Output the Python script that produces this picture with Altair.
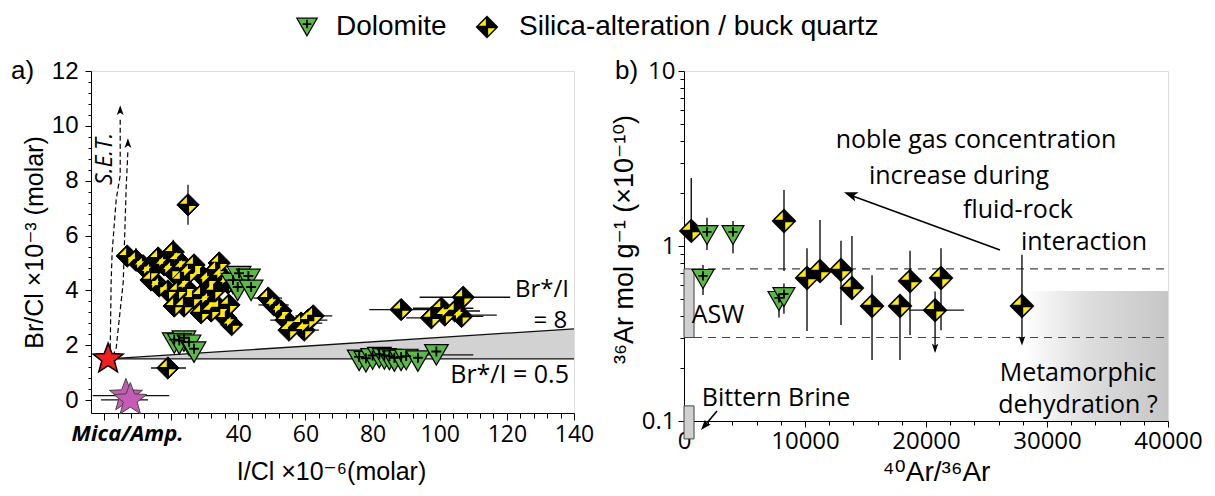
import math
import altair as alt
import pandas as pd

# ---------------- Panel a data (I/Cl vs Br/Cl) ----------------
A_DIA_X = [25.0, 6.9, 9.5, 11.6, 13.7, 16.1, 17.9, 20.6, 22.0, 20.0, 23.5, 25.3, 26.8, 28.9, 31.0,
           33.4, 34.9, 36.9, 14.0, 16.4, 19.0, 22.0, 24.4, 26.5, 23.8, 28.9, 31.0, 32.8, 28.9, 31.9,
           34.3, 36.3, 37.2, 22.9, 20.9, 34.3, 38.0, 48.9, 50.6, 52.7, 54.2, 55.1, 58.7, 60.8, 62.3,
           59.6, 19.0, 88.5, 97.5, 100.5, 101.5, 104.5, 107.0, 106.5]
A_DIA_Y = [7.12, 5.25, 5.1, 4.9, 4.67, 5.18, 4.93, 5.4, 5.1, 4.74, 4.82, 4.64, 4.93, 4.56, 4.38,
           4.74, 4.53, 4.27, 4.38, 4.16, 3.98, 3.98, 4.09, 3.72, 3.43, 3.83, 3.61, 3.98, 3.18, 3.25,
           3.36, 2.99, 3.47, 4.38, 3.43, 5.0, 2.75, 3.72, 3.47, 3.25, 2.92, 2.55, 2.81, 2.92, 3.07,
           2.55, 1.17, 3.3, 3.0, 3.35, 3.1, 3.25, 3.75, 3.05]
A_TRI_X = [38.4, 40.2, 43.0, 39.8, 43.8, 20.9, 23.8, 22.4, 25.3, 26.8,
           76.0, 78.0, 80.0, 82.0, 83.5, 85.0, 86.5, 88.5, 90.0, 93.5, 99.0]
A_TRI_Y = [4.25, 4.5, 4.4, 4.0, 4.0, 2.08, 2.15, 2.05, 2.0, 1.75,
           1.45, 1.4, 1.5, 1.55, 1.5, 1.48, 1.42, 1.45, 1.48, 1.42, 1.65]
A_RED_STAR_X = [1.2]
A_RED_STAR_Y = [1.5]
A_PUR_STAR_X = [6.5, 7.8]
A_PUR_STAR_Y = [0.16, 0.01]
A_HBAR_Y = [1.17, 3.72, 3.47, 3.07, 2.92, 2.81, 2.55, 2.92, 3.3, 3.0, 3.35, 3.1, 3.25, 3.75, 3.05,
            0.16, 0.01, 1.65]
A_HBAR_LO = [14.0, 44.5, 46.0, 57.0, 56.0, 55.0, 53.0, 49.5, 79.0, 90.0, 92.0, 95.0, 97.0, 94.0, 96.0,
             -3.4, -0.9, 95.0]
A_HBAR_HI = [24.4, 53.0, 55.0, 68.0, 66.5, 65.0, 64.0, 59.0, 98.0, 105.0, 110.0, 117.0, 112.0, 121.0, 113.0,
             19.4, 13.1, 110.0]
A_VBAR_X = [25.0, 9.5, 20.6, 16.1, 23.5, 26.8, 33.4, 34.3, 37.2, 40.2, 6.9]
A_VBAR_LO = [6.39, 5.1, 5.4, 5.18, 4.82, 4.93, 4.74, 5.0, 4.27, 4.5, 5.25]
A_VBAR_HI = [7.85, 5.55, 5.85, 5.55, 5.2, 5.25, 5.1, 5.3, 4.6, 4.85, 5.6]
A_WEDGE_X = [1.2, 140.0]
A_WEDGE_TOP = [1.5, 2.6]
A_WEDGE_BOT = [1.5, 1.5]
SET1_X = [1.8, 2.1, 2.4, 3.6, 4.8, 4.8]
SET1_Y = [1.6, 4.3, 5.4, 7.3, 8.2, 10.3]
SET2_X = [2.6, 3.6, 5.7, 6.6, 7.1]
SET2_Y = [1.6, 1.9, 4.3, 7.8, 9.1]
SET_TIP_X = [4.8, 7.1]
SET_TIP_Y = [10.75, 9.55]
A_X_TICKS = list(range(0, 141, 4))
A_Y_TICKS = [round(i * 0.4, 1) for i in range(31)]

# ---------------- Panel b data (40Ar/36Ar vs 36Ar) ----------------
B_DIA_X = [600, 8264, 10165, 11240, 12975, 13880, 15540, 17850, 18680, 20750, 21240, 27930]
B_DIA_Y = [1.22, 1.39, 0.656, 0.72, 0.73, 0.575, 0.454, 0.454, 0.63, 0.43, 0.656, 0.454]
B_DIA_LO = [1.22, 0.72, 0.327, 0.72, 0.354, 0.575, 0.223, 0.223, 0.31, 0.25, 0.33, 0.28]
B_DIA_HI = [2.45, 2.09, 0.97, 1.41, 1.07, 1.14, 0.68, 0.52, 0.94, 0.55, 0.97, 0.89]
B_HBAR_Y = [0.43]
B_HBAR_LO = [18600]
B_HBAR_HI = [23150]
B_LIMIT_X = [20750, 27930]
B_LIMIT_Y = [0.245, 0.27]
B_TRI_X = [1900, 4050, 1570, 7850, 8260]
B_TRI_Y = [1.155, 1.155, 0.648, 0.485, 0.51]
B_TRI_LO = [0.95, 0.91, 0.525, 0.39, 0.41]
B_TRI_HI = [1.45, 1.39, 0.78, 0.575, 0.61]
ASW_RANGE = [0.30, 0.74]
BITTERN_RANGE = [0.079, 0.122]
META_RANGE_X = [28100, 40000]
META_RANGE_Y = [0.1, 0.553]
B_X_TICKS = list(range(0, 40001, 2000))
B_Y_TICKS = [round(k * 0.1, 1) for k in range(1, 10)] + list(range(1, 10)) + [10]

# ---------------- styles ----------------
GREEN = "#5cb847"
YELLOW = "#ffec00"
SANS = "Liberation Sans, DejaVu Sans"
MYR = "Open Sans, DejaVu Sans"
YELLOW_PARTS = "M-0.1,-0.72L-0.1,-0.1L-0.72,-0.1ZM0.1,0.1L0.72,0.1L0.1,0.72Z"
PLUS = "M-0.42,-0.29L0.42,-0.29M0,-0.71L0,0.13"
ARROWHEAD = "M0,0L0.6,1.7L0,1.3L-0.6,1.7Z"


def star_path(inner=0.42):
    pts = []
    for k in range(10):
        r = 1.0 if k % 2 == 0 else inner
        a = -math.pi / 2 + k * math.pi / 5
        pts.append(f"{r * math.cos(a):.3f},{r * math.sin(a):.3f}")
    return "M" + "L".join(pts) + "Z"


STAR = star_path()

# ---------------- Panel a ----------------
xs_a = alt.Scale(domain=[-3.9, 140], nice=False, zero=False)
ys_a = alt.Scale(domain=[-0.47, 12], nice=False, zero=False)
xaxis_a = alt.Axis(
    title="I/Cl ×10⁻⁶(molar)", titleFont=SANS, titleFontSize=25, titleFontWeight="normal",
    titleX=240, titleY=58, titleAlign="center", titleBaseline="middle", titleColor="black",
    values=A_X_TICKS, labelExpr="datum.value >= 40 && datum.value % 20 == 0 ? datum.label : ''",
    format="d", labelFont=MYR, labelFontSize=23, labelColor="black", labelPadding=3,
    tickSize={"condition": {"test": "datum.value % 20 == 0", "value": 7}, "value": 5},
    tickColor="black", domainColor="black", grid=False, labelFlush=False, labelOverlap=False,
)
yaxis_a = alt.Axis(
    title="Br/Cl  ×10⁻³ (molar)", titleFont=SANS, titleFontSize=25, titleFontWeight="normal",
    titleX=-57, titleY=171, titleAlign="center", titleBaseline="middle", titleAngle=-90, titleColor="black",
    values=A_Y_TICKS, format="~g", labelExpr="datum.value % 2 == 0 ? datum.label : ''",
    labelFont=SANS, labelFontSize=24, labelColor="black", labelPadding=7,
    tickSize={"condition": {"test": "datum.value % 2 == 0", "value": 6}, "value": 3},
    tickColor="black", domainColor="black", grid=False, labelFlush=False, labelOverlap=False,
)


def XA(f):
    return alt.X(f, type="quantitative", scale=xs_a, axis=xaxis_a)


def YA(f):
    return alt.Y(f, type="quantitative", scale=ys_a, axis=yaxis_a)


wedge = pd.DataFrame({"x": A_WEDGE_X, "top": A_WEDGE_TOP, "bot": A_WEDGE_BOT})
a_wedge = alt.Chart(wedge).mark_area(color="#d2d2d2").encode(x=XA("x"), y=YA("top"), y2="bot")
a_wedge_lines = alt.Chart(pd.DataFrame({
    "x1": [A_WEDGE_X[0], A_WEDGE_X[0]], "x2": [A_WEDGE_X[1], A_WEDGE_X[1]],
    "y1": [A_WEDGE_TOP[0], A_WEDGE_BOT[0]], "y2": [A_WEDGE_TOP[1], A_WEDGE_BOT[1]],
})).mark_rule(color="#111", strokeWidth=1.3).encode(x=XA("x1"), y=YA("y1"), x2="x2", y2="y2")

set_df = pd.DataFrame({
    "x": SET1_X + SET2_X, "y": SET1_Y + SET2_Y,
    "g": ["a"] * len(SET1_X) + ["b"] * len(SET2_X),
    "i": list(range(len(SET1_X))) + list(range(len(SET2_X))),
})
a_set = alt.Chart(set_df).mark_line(color="black", strokeWidth=1.2, strokeDash=[5, 3]).encode(
    x=XA("x"), y=YA("y"), detail="g:N", order="i:Q")
a_set_tips = alt.Chart(pd.DataFrame({"x": SET_TIP_X, "y": SET_TIP_Y})).mark_point(
    shape=ARROWHEAD, filled=True, color="black", size=130, opacity=1).encode(x=XA("x"), y=YA("y"))

hbar_a = pd.DataFrame({"y": A_HBAR_Y, "lo": A_HBAR_LO, "hi": A_HBAR_HI})
a_hbar = alt.Chart(hbar_a).mark_rule(color="#111", strokeWidth=1.3).encode(x=XA("lo"), x2="hi", y=YA("y"))
vbar_a = pd.DataFrame({"x": A_VBAR_X, "lo": A_VBAR_LO, "hi": A_VBAR_HI})
a_vbar = alt.Chart(vbar_a).mark_rule(color="#111", strokeWidth=1.3).encode(x=XA("x"), y=YA("lo"), y2="hi")

dia_a = pd.DataFrame({"x": A_DIA_X, "y": A_DIA_Y})
a_dia = alt.Chart(dia_a).mark_point(shape="diamond", filled=True, color="black", size=500, opacity=1,
                                     stroke="black", strokeWidth=1).encode(x=XA("x"), y=YA("y"))
a_dia_y = alt.Chart(dia_a).mark_point(shape=YELLOW_PARTS, filled=True, color=YELLOW, size=500,
                                       opacity=1).encode(x=XA("x"), y=YA("y"))

tri_a = pd.DataFrame({"x": A_TRI_X, "y": A_TRI_Y})
a_tri = alt.Chart(tri_a).mark_point(shape="triangle-down", filled=True, fill=GREEN, stroke="black",
                                     strokeWidth=1.2, size=560, opacity=1).encode(x=XA("x"), y=YA("y"))
a_tri_p = alt.Chart(tri_a).mark_point(shape=PLUS, filled=False, stroke="black", strokeWidth=1.9,
                                       size=560, opacity=1).encode(x=XA("x"), y=YA("y"))

a_red = alt.Chart(pd.DataFrame({"x": A_RED_STAR_X, "y": A_RED_STAR_Y})).mark_point(
    shape=STAR, filled=True, fill="#ee2020", stroke="black", strokeWidth=1.5, size=1000, opacity=1
).encode(x=XA("x"), y=YA("y"))
a_pur = alt.Chart(pd.DataFrame({"x": A_PUR_STAR_X, "y": A_PUR_STAR_Y})).mark_point(
    shape=STAR, filled=True, fill="#c45bb5", stroke="#444", strokeWidth=1, size=1200, opacity=1
).encode(x=XA("x"), y=YA("y"))

a_txt = alt.Chart(pd.DataFrame({
    "x": [138.5, 138.0], "y": [4.02, 2.88], "t": ["Br*/I", "= 8"],
})).mark_text(font=MYR, fontSize=24, align="right", baseline="middle", color="black").encode(
    x=XA("x"), y=YA("y"), text="t")
a_txt2 = alt.Chart(pd.DataFrame({
    "x": [138.5], "y": [0.91], "t": ["Br*/I = 0.5"],
})).mark_text(font=MYR, fontSize=25, align="right", baseline="middle", color="black").encode(
    x=XA("x"), y=YA("y"), text="t")
a_set_txt = alt.Chart(pd.DataFrame({"x": [0.2], "y": [8.8], "t": ["S.E.T."]})).mark_text(
    font=MYR, fontSize=23, fontStyle="italic", angle=270, align="center", baseline="middle", color="black"
).encode(x=XA("x"), y=YA("y"), text="t")
a_mica = alt.Chart(pd.DataFrame({"x": [7.0], "t": ["Mica/Amp."]})).mark_text(
    font=MYR, fontSize=22, fontStyle="italic", fontWeight="bold", align="center", baseline="middle",
    color="black").encode(x=XA("x"), y=alt.value(363), text="t")

# legend and panel letter (pixel placement)
lab = pd.DataFrame({"t": ["Dolomite", "Silica-alteration / buck quartz", "a)"]})
leg_t1 = alt.Chart(lab.iloc[[0]]).mark_text(font=SANS, fontSize=28, align="left", baseline="middle",
                                            color="black").encode(text="t", x=alt.value(245), y=alt.value(-44))
leg_t2 = alt.Chart(lab.iloc[[1]]).mark_text(font=SANS, fontSize=28, align="left", baseline="middle",
                                            color="black").encode(text="t", x=alt.value(428), y=alt.value(-44))
leg_a = alt.Chart(lab.iloc[[2]]).mark_text(font=SANS, fontSize=26, align="left", baseline="middle",
                                           color="black").encode(text="t", x=alt.value(-80), y=alt.value(0))
one = pd.DataFrame({"k": [1]})
leg_tri = alt.Chart(one).mark_point(shape="triangle-down", filled=True, fill=GREEN, stroke="black",
                                    strokeWidth=1.2, size=420, opacity=1).encode(x=alt.value(216), y=alt.value(-44))
leg_tri_p = alt.Chart(one).mark_point(shape=PLUS, filled=False, stroke="black", strokeWidth=1.7,
                                      size=420, opacity=1).encode(x=alt.value(216), y=alt.value(-44))
leg_dia = alt.Chart(one).mark_point(shape="diamond", filled=True, color="black", size=520,
                                    opacity=1).encode(x=alt.value(396), y=alt.value(-44))
leg_dia_y = alt.Chart(one).mark_point(shape=YELLOW_PARTS, filled=True, color=YELLOW, size=520,
                                      opacity=1).encode(x=alt.value(396), y=alt.value(-44))

panel_a = alt.layer(
    a_wedge, a_wedge_lines, a_set, a_set_tips, a_hbar, a_vbar, a_dia, a_dia_y, a_tri, a_tri_p,
    a_red, a_pur, a_txt, a_txt2, a_set_txt, a_mica, leg_t1, leg_t2, leg_a, leg_tri, leg_tri_p,
    leg_dia, leg_dia_y,
).properties(width=483, height=342)

# ---------------- Panel b ----------------
xs_b = alt.Scale(domain=[0, 40000], nice=False, zero=False)
ys_b = alt.Scale(type="log", domain=[0.1, 10], nice=False)
xaxis_b = alt.Axis(
    title="⁴⁰Ar/³⁶Ar", titleFont=SANS, titleFontSize=28, titleFontWeight="normal",
    titleX=252, titleY=51, titleAlign="center", titleBaseline="middle", titleColor="black",
    values=B_X_TICKS, labelExpr="datum.value % 10000 == 0 ? datum.label : ''", format="d",
    labelFont=MYR, labelFontSize=24, labelColor="black", labelPadding=2,
    tickSize={"condition": {"test": "datum.value % 10000 == 0", "value": 6}, "value": 4},
    tickColor="black", domainColor="black", grid=False, labelFlush=False, labelOverlap=False,
)
yaxis_b = alt.Axis(
    title="³⁶Ar mol g⁻¹ (×10⁻¹⁰)", titleFont=SANS, titleFontSize=27, titleFontWeight="normal",
    titleX=-60, titleY=168, titleAlign="center", titleBaseline="middle", titleAngle=-90, titleColor="black",
    values=B_Y_TICKS, format="~g",
    labelExpr="datum.value == 0.1 || datum.value == 1 || datum.value == 10 ? datum.label : ''",
    labelFont=MYR, labelFontSize=24, labelColor="black", labelPadding=3,
    tickSize={"condition": {"test": "datum.value == 0.1 || datum.value == 1 || datum.value == 10",
                            "value": 6}, "value": 4},
    tickColor="black", domainColor="black", grid=False, labelFlush=False, labelOverlap=False,
)


def XB(f):
    return alt.X(f, type="quantitative", scale=xs_b, axis=xaxis_b)


def YB(f):
    return alt.Y(f, type="quantitative", scale=ys_b, axis=yaxis_b)


grad = alt.Gradient(gradient="linear", x1=0, x2=1, y1=0, y2=0, stops=[
    alt.GradientStop(color="#ffffff", offset=0), alt.GradientStop(color="#dddddd", offset=0.45),
    alt.GradientStop(color="#c6c6c6", offset=1)])
b_meta = alt.Chart(pd.DataFrame({"x1": [META_RANGE_X[0]], "x2": [META_RANGE_X[1]],
                                 "y1": [META_RANGE_Y[0]], "y2": [META_RANGE_Y[1]]})).mark_rect(
    color=grad).encode(x=XB("x1"), x2="x2", y=YB("y1"), y2="y2")
b_dash = alt.Chart(pd.DataFrame({"y": ASW_RANGE, "lo": [830, 830], "hi": [40000, 40000]})).mark_rule(
    color="#444", strokeWidth=1.2, strokeDash=[8, 6]).encode(x=XB("lo"), x2="hi", y=YB("y"))
b_boxes = alt.Chart(pd.DataFrame({"x1": [0, 0], "x2": [830, 830],
                                  "y1": [ASW_RANGE[0], BITTERN_RANGE[0]],
                                  "y2": [ASW_RANGE[1], BITTERN_RANGE[1]]})).mark_rect(
    fill="#d0d0d0", stroke="#444", strokeWidth=1).encode(x=XB("x1"), x2="x2", y=YB("y1"), y2="y2")

dia_b = pd.DataFrame({"x": B_DIA_X, "y": B_DIA_Y, "lo": B_DIA_LO, "hi": B_DIA_HI})
tri_b = pd.DataFrame({"x": B_TRI_X, "y": B_TRI_Y, "lo": B_TRI_LO, "hi": B_TRI_HI})
b_vbar_d = alt.Chart(dia_b).mark_rule(color="#111", strokeWidth=1.4).encode(x=XB("x"), y=YB("lo"), y2="hi")
b_vbar_t = alt.Chart(tri_b).mark_rule(color="#111", strokeWidth=1.4).encode(x=XB("x"), y=YB("lo"), y2="hi")
b_hbar = alt.Chart(pd.DataFrame({"y": B_HBAR_Y, "lo": B_HBAR_LO, "hi": B_HBAR_HI})).mark_rule(
    color="#111", strokeWidth=1.4).encode(x=XB("lo"), x2="hi", y=YB("y"))
b_limits = alt.Chart(pd.DataFrame({"x": B_LIMIT_X, "y": B_LIMIT_Y})).mark_point(
    shape=ARROWHEAD, filled=True, color="black", size=120, opacity=1, angle=180).encode(x=XB("x"), y=YB("y"))
b_dia = alt.Chart(dia_b).mark_point(shape="diamond", filled=True, color="black", size=620, opacity=1).encode(
    x=XB("x"), y=YB("y"))
b_dia_y = alt.Chart(dia_b).mark_point(shape=YELLOW_PARTS, filled=True, color=YELLOW, size=620,
                                       opacity=1).encode(x=XB("x"), y=YB("y"))
b_tri = alt.Chart(tri_b).mark_point(shape="triangle-down", filled=True, fill=GREEN, stroke="black",
                                     strokeWidth=1.2, size=480, opacity=1).encode(x=XB("x"), y=YB("y"))
b_tri_p = alt.Chart(tri_b).mark_point(shape=PLUS, filled=False, stroke="black", strokeWidth=1.8,
                                       size=480, opacity=1).encode(x=XB("x"), y=YB("y"))

b_arrow_line = alt.Chart(pd.DataFrame({"x1": [26115, 2727], "y1": [0.949, 0.114],
                                       "x2": [13600, 1600], "y2": [1.97, 0.092]})).mark_rule(
    color="black", strokeWidth=1.6).encode(x=XB("x1"), y=YB("y1"), x2="x2", y2="y2")
b_arrow_heads = alt.Chart(pd.DataFrame({"x": [13222], "y": [2.03]})).mark_point(
    shape=ARROWHEAD, filled=True, color="black", size=260, opacity=1, angle=290).encode(x=XB("x"), y=YB("y"))
b_arrow_heads2 = alt.Chart(pd.DataFrame({"x": [1405], "y": [0.0887]})).mark_point(
    shape=ARROWHEAD, filled=True, color="black", size=160, opacity=1, angle=220).encode(x=XB("x"), y=YB("y"))

b_txt = alt.Chart(pd.DataFrame({
    "x": [24130, 22730, 27600, 33060, 2810, 7600, 32560, 32560],
    "y": [4.03, 2.51, 1.61, 1.05, 0.403, 0.135, 0.188, 0.123],
    "t": ["noble gas concentration", "increase during", "fluid-rock", "interaction", "ASW",
          "Bittern Brine", "Metamorphic", "dehydration ?"],
})).mark_text(font=MYR, fontSize=25, align="center", baseline="middle", color="black").encode(
    x=XB("x"), y=YB("y"), text="t")
b_letter = alt.Chart(pd.DataFrame({"t": ["b)"]})).mark_text(
    font=SANS, fontSize=26, align="left", baseline="middle", color="black").encode(
    text="t", x=alt.value(-69), y=alt.value(0))

panel_b = alt.layer(
    b_meta, b_dash, b_boxes, b_vbar_d, b_vbar_t, b_hbar, b_limits, b_dia, b_dia_y, b_tri, b_tri_p,
    b_arrow_line, b_arrow_heads, b_arrow_heads2, b_txt, b_letter,
).properties(width=484, height=350)

chart = alt.hconcat(panel_a, panel_b, spacing=110, bounds="flush").properties(
    padding={"left": 10, "top": 12, "right": 5, "bottom": 5}
).configure_view(stroke="#555", strokeWidth=1).configure(background="white")

chart.save("out.html", embed_options={"renderer": "svg", "actions": False})
